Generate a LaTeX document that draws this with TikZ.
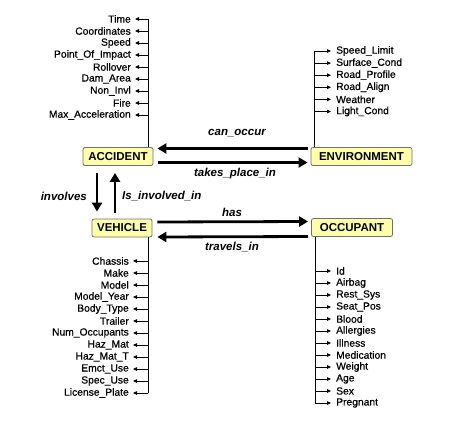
\documentclass[tikz,border=0pt]{standalone}
\usepackage{fontspec}
\setmainfont{Liberation Sans}
\newfontfamily\attrfont{Liberation Sans}[FakeBold=0.6]
\usetikzlibrary{arrows.meta,calc}
\definecolor{boxfill}{RGB}{255,255,170}
\definecolor{boxline}{RGB}{110,110,110}
\tikzset{
  entity/.style={draw=boxline, fill=boxfill, rounded corners=2pt, line width=0.8pt,
    font=\fontsize{11.5}{12}\selectfont\bfseries, inner xsep=5pt, minimum height=18pt, inner ysep=0pt},
  rel/.style={line width=2.8pt, -{Triangle[length=9pt,width=10pt]}},
  rellabel/.style={font=\fontsize{11.5}{12}\selectfont\bfseries\itshape, inner sep=1pt},
  attr/.style={font=\attrfont\fontsize{10.3}{11}\selectfont, inner sep=0pt},
  spine/.style={line width=0.8pt},
  attrarrow/.style={line width=0.8pt, -{Triangle[length=4pt,width=3.5pt]}},
}
\begin{document}
\begin{tikzpicture}[x=1pt,y=-1pt]
\useasboundingbox (0,0) rectangle (452,425);
% entities
\node[entity, minimum width=70pt] (acc) at (118,156.5) {ACCIDENT};
\node[entity, minimum width=101pt] (env) at (361.5,156.5) {ENVIRONMENT};
\node[entity, minimum width=60pt] (veh) at (122,228) {VEHICLE};
\node[entity, minimum width=81pt] (occ) at (352,227.5) {OCCUPANT};
% relationships
\draw[rel] ([xshift=-3pt,yshift=8pt]env.west) -- ([xshift=4pt,yshift=8pt]acc.east);
\draw[rel] ([xshift=5pt,yshift=-6pt]acc.east) -- ([xshift=-3pt,yshift=-6pt]env.west);
\node[rellabel] (lco) at (237,133) {can\_occur};
\node[rellabel] (ltp) at (235,174) {takes\_place\_in};
\coordinate (vx1) at (97,0);
\coordinate (vx2) at (115,0);
\draw[rel] ([yshift=-7pt]acc.south -| vx1) -- ([yshift=7pt]veh.north -| vx1);
\draw[rel] ([yshift=6pt]veh.north -| vx2) -- ([yshift=-7pt]acc.south -| vx2);
\node[rellabel, anchor=east] (linv) at (88,196) {involves};
\node[rellabel, anchor=west] (lisinv) at (121,196) {Is\_involved\_in};
\draw[rel] ([xshift=5pt,yshift=6pt]veh.east) -- ([xshift=-3pt,yshift=6pt]occ.west);
\draw[rel] ([xshift=-3pt,yshift=-9pt]occ.west) -- ([xshift=5pt,yshift=-9pt]veh.east);
\node[rellabel] (lhas) at (232,212) {has};
\node[rellabel] (ltr) at (232,247) {travels\_in};
% ACCIDENT attributes
\coordinate (as) at (148,0);
\draw[spine] (acc.north -| as) -- (148,19);
\foreach \t [count=\i from 0] in {Time,Coordinates,Speed,Point\_Of\_Impact,Rollover,Dam\_Area,Non\_Invl,Fire,Max\_Acceleration}{
  \node[attr, anchor=east] (aa\i) at (131,19+12*\i) {\t};
  \draw[attrarrow] (148,19+12*\i) -- (aa\i.east -| 135,0);
}
% ENVIRONMENT attributes
\coordinate (es) at (314,0);
\draw[spine] (env.north -| es) -- (314,51);
\foreach \t [count=\i from 0] in {Speed\_Limit,Surface\_Cond,Road\_Profile,Road\_Align,Weather,Light\_Cond}{
  \node[attr, anchor=west] (ea\i) at (336,51+12.1*\i) {\t};
  \draw[attrarrow] (314,51+12.1*\i) -- (ea\i.west -| 331,0);
}
% VEHICLE attributes
\coordinate (vs) at (148,0);
\draw[spine] (veh.south -| vs) -- (148,393);
\foreach \t [count=\i from 0] in {Chassis,Make,Model,Model\_Year,Body\_Type,Trailer,Num\_Occupants,Haz\_Mat,Haz\_Mat\_T,Emct\_Use,Spec\_Use,License\_Plate}{
  \node[attr, anchor=east] (va\i) at (129,261+12*\i) {\t};
  \draw[attrarrow] (148,261+12*\i) -- (va\i.east -| 133,0);
}
% OCCUPANT attributes
\coordinate (os) at (315,0);
\draw[spine] (occ.south -| os) -- (315,403);
\foreach \t [count=\i from 0] in {Id,Airbag,Rest\_Sys,Seat\_Pos,Blood,Allergies,Illness,Medication,Weight,Age,Sex,Pregnant}{
  \node[attr, anchor=west] (oa\i) at (336,271+12*\i) {\t};
  \draw[attrarrow] (315,271+12*\i) -- (oa\i.west -| 331,0);
}
\end{tikzpicture}
\end{document}
